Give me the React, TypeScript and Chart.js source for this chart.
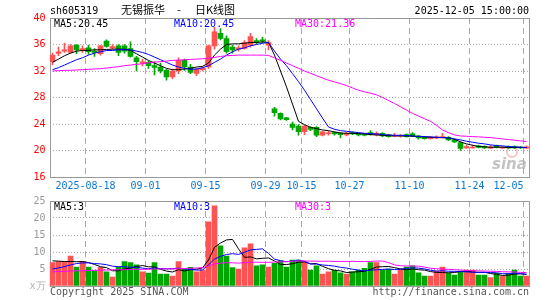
import React, { useEffect, useRef } from 'react';
import { Chart, registerables } from 'chart.js';

Chart.register(...registerables);

// ---------------- data ----------------
const dates = [
  '2025-08-08','2025-08-11','2025-08-12','2025-08-13','2025-08-14','2025-08-15','2025-08-18','2025-08-19','2025-08-20','2025-08-21',
  '2025-08-22','2025-08-25','2025-08-26','2025-08-27','2025-08-28','2025-08-29','2025-09-01','2025-09-02','2025-09-03','2025-09-04',
  '2025-09-05','2025-09-08','2025-09-09','2025-09-10','2025-09-11','2025-09-12','2025-09-15','2025-09-16','2025-09-17','2025-09-18',
  '2025-09-19','2025-09-22','2025-09-23','2025-09-24','2025-09-25','2025-09-26','2025-09-29','2025-09-30','2025-10-09','2025-10-10',
  '2025-10-13','2025-10-14','2025-10-15','2025-10-16','2025-10-17','2025-10-20','2025-10-21','2025-10-22','2025-10-23','2025-10-24',
  '2025-10-27','2025-10-28','2025-10-29','2025-10-30','2025-10-31','2025-11-03','2025-11-04','2025-11-05','2025-11-06','2025-11-07',
  '2025-11-10','2025-11-11','2025-11-12','2025-11-13','2025-11-14','2025-11-17','2025-11-18','2025-11-19','2025-11-20','2025-11-21',
  '2025-11-24','2025-11-25','2025-11-26','2025-11-27','2025-11-28','2025-12-01','2025-12-02','2025-12-03','2025-12-04','2025-12-05',
];

const open = [
  33.4, 34.65, 35.0, 34.8, 35.9, 35.2, 35.5, 35.0, 34.6, 36.5,
  35.5, 35.8, 35.8, 35.4, 34.0, 33.2, 33.3, 32.8, 32.6, 32.1,
  31.1, 32.0, 33.6, 32.6, 31.65, 32.2, 32.6, 35.8, 37.7, 36.9,
  35.6, 35.3, 35.4, 35.9, 36.6, 36.7, 35.9, 26.3, 25.6, 24.95,
  24.0, 23.7, 22.85, 23.5, 23.5, 22.3, 22.55, 22.7, 22.6, 22.35,
  22.7, 22.55, 22.5, 22.7, 22.35, 22.6, 22.35, 22.15, 22.15, 22.4,
  22.5, 22.2, 22.0, 21.8, 21.9, 21.95, 22.0, 21.6, 21.2, 20.4,
  20.4, 20.7, 20.6, 20.35, 20.7, 20.35, 20.6, 20.6, 20.5, 20.35,
];
const high = [
  34.7, 35.6, 36.2, 36.0, 36.0, 35.8, 35.9, 35.4, 35.9, 36.7,
  36.0, 36.0, 36.0, 36.4, 34.2, 33.8, 33.5, 33.4, 33.2, 32.3,
  32.3, 34.0, 33.8, 33.0, 32.4, 32.6, 35.9, 38.6, 38.4, 37.3,
  35.9, 35.8, 36.6, 37.7, 36.9, 37.1, 36.6, 26.5, 25.7, 25.0,
  24.3, 23.9, 23.8, 23.6, 23.6, 22.9, 22.9, 22.8, 22.7, 22.75,
  22.8, 22.65, 22.6, 23.0, 22.8, 22.7, 22.45, 22.6, 22.4, 22.5,
  22.7, 22.3, 22.1, 22.1, 22.2, 22.6, 22.1, 21.7, 21.3, 20.8,
  20.8, 20.8, 20.7, 20.75, 20.8, 20.6, 20.7, 20.7, 20.6, 20.7,
];
const low = [
  32.9, 34.3, 34.8, 34.7, 34.6, 34.8, 34.5, 34.2, 34.4, 35.6,
  35.3, 34.3, 34.7, 34.1, 32.0, 32.75, 32.4, 31.4, 31.7, 30.6,
  30.8, 31.6, 32.1, 31.6, 31.3, 32.0, 32.4, 35.3, 36.7, 34.7,
  34.7, 35.0, 35.3, 35.6, 36.1, 36.2, 35.2, 25.2, 24.6, 24.55,
  23.1, 22.3, 22.4, 23.0, 22.1, 22.2, 22.3, 22.3, 21.9, 22.2,
  22.4, 22.2, 22.2, 22.3, 22.2, 22.1, 22.0, 22.1, 22.0, 22.0,
  22.1, 21.7, 21.7, 21.7, 21.8, 21.85, 21.5, 21.2, 20.0, 20.3,
  20.35, 20.4, 20.3, 20.3, 20.4, 20.3, 20.3, 20.3, 20.3, 20.3,
];
const close = [
  34.4, 34.9, 35.2, 35.8, 35.2, 35.4, 34.9, 34.8, 35.8, 35.7,
  35.7, 34.8, 35.0, 34.2, 33.4, 33.4, 32.8, 32.55, 32.0, 31.1,
  32.0, 33.6, 32.6, 31.8, 32.25, 32.4, 35.8, 37.9, 36.9, 34.9,
  35.2, 35.5, 36.3, 37.2, 36.4, 36.5, 36.3, 25.7, 24.75, 24.65,
  23.5, 22.85, 23.7, 23.2, 22.3, 22.8, 22.68, 22.5, 22.4, 22.6,
  22.5, 22.35, 22.3, 22.4, 22.6, 22.2, 22.1, 22.3, 22.3, 22.1,
  22.2, 21.9, 21.8, 22.0, 22.05, 22.1, 21.6, 21.3, 20.3, 20.6,
  20.5, 20.45, 20.4, 20.5, 20.5, 20.5, 20.4, 20.4, 20.4, 20.55,
];

const ma5 = [
  33.3, 33.8, 34.3, 34.7, 35.0, 35.1, 35.1, 35.2, 35.2, 35.25,
  35.3, 35.3, 35.3, 35.1, 34.6, 34.1, 33.6, 33.2, 32.8, 32.4,
  32.2, 32.2, 32.3, 32.4, 32.6, 32.7, 33.2, 34.4, 35.3, 36.0,
  36.1, 36.1, 36.2, 36.3, 36.3, 36.4, 36.3, 34.4, 32.0, 29.6,
  27.0, 24.4, 23.9, 23.5, 23.3, 23.1, 23.0, 22.8, 22.65, 22.6,
  22.6, 22.55, 22.5, 22.4, 22.35, 22.3, 22.25, 22.2, 22.2, 22.2,
  22.15, 22.1, 22.05, 22.0, 21.95, 21.95, 21.9, 21.7, 21.3, 21.0,
  20.8, 20.6, 20.55, 20.5, 20.5, 20.5, 20.45, 20.45, 20.45, 20.45,
];
const ma10 = [
  32.2, 32.5, 32.9, 33.3, 33.7, 34.0, 34.4, 34.7, 34.9, 35.1,
  35.1, 35.2, 35.2, 35.2, 35.0, 34.8, 34.5, 34.1, 33.7, 33.3,
  32.9, 32.6, 32.4, 32.25, 32.3, 32.5, 32.8, 33.3, 33.8, 34.4,
  34.9, 35.3, 35.5, 35.8, 36.0, 36.2, 36.3, 35.0, 33.8, 32.8,
  31.6, 30.4, 29.1, 27.7, 26.3, 24.9, 23.55, 23.2, 23.0, 22.9,
  22.8, 22.7, 22.6, 22.55, 22.5, 22.4, 22.35, 22.3, 22.3, 22.25,
  22.2, 22.1, 22.1, 22.05, 22.0, 21.95, 21.9, 21.75, 21.6, 21.4,
  21.25, 21.1, 21.0, 20.85, 20.75, 20.7, 20.6, 20.55, 20.5, 20.45,
];
const ma30 = [
  32.0, 32.05, 32.1, 32.1, 32.15, 32.2, 32.25, 32.3, 32.35, 32.45,
  32.55, 32.65, 32.8, 32.9, 33.0, 33.1, 33.25, 33.35, 33.4, 33.5,
  33.6, 33.65, 33.7, 33.75, 33.8, 33.85, 33.95, 34.05, 34.2, 34.3,
  34.35, 34.4, 34.4, 34.4, 34.4, 34.4, 34.35, 34.0, 33.6, 33.2,
  32.8, 32.4, 32.0, 31.65, 31.3, 30.95, 30.6, 30.35, 30.1, 29.8,
  29.45, 29.1, 28.85, 28.65, 28.4, 28.0, 27.55, 27.1, 26.6, 26.1,
  25.6, 25.2, 24.8, 24.4, 23.8, 23.1, 22.7, 22.35, 22.2, 22.15,
  22.1, 22.05, 22.0, 21.95, 21.85, 21.75, 21.65, 21.55, 21.45, 21.36,
];

const volume = [
  6.9, 7.2, 7.2, 8.8, 5.6, 7.2, 5.6, 4.5, 5.5, 4.2,
  2.6, 5.6, 7.2, 6.9, 6.2, 4.2, 3.8, 6.9, 3.5, 3.5,
  2.9, 7.2, 5.0, 5.5, 4.2, 4.7, 18.9, 23.6, 11.8, 8.8,
  5.4, 5.0, 11.2, 12.4, 5.9, 6.2, 5.6, 6.7, 7.4, 5.6,
  7.6, 7.6, 7.2, 4.7, 5.9, 3.5, 4.2, 4.7, 3.9, 3.5,
  4.2, 4.7, 5.2, 6.9, 6.9, 4.7, 5.0, 3.5, 5.0, 5.6,
  5.9, 3.9, 2.9, 2.9, 4.4, 5.6, 3.7, 3.2, 4.4, 4.7,
  4.7, 3.2, 3.2, 2.5, 3.7, 2.9, 3.7, 4.7, 2.9, 2.9,
];
const volMa5 = [
  7.4, 7.3, 7.2, 7.2, 7.14, 7.2, 6.88, 6.34, 5.68, 5.4,
  4.48, 4.48, 5.02, 5.3, 5.7, 6.02, 5.66, 5.6, 4.92, 4.38,
  4.12, 4.8, 4.42, 4.82, 4.96, 5.32, 7.66, 11.38, 12.64, 13.56,
  13.7, 10.92, 8.44, 8.56, 7.98, 8.14, 8.26, 7.36, 6.36, 6.3,
  6.58, 6.98, 7.08, 6.54, 6.6, 5.78, 5.1, 4.6, 4.44, 3.96,
  4.1, 4.2, 4.3, 4.9, 5.58, 5.68, 5.74, 5.4, 5.02, 4.76,
  5.0, 4.78, 4.66, 4.24, 4.0, 3.94, 3.9, 3.96, 4.26, 4.32,
  4.14, 4.04, 4.04, 3.66, 3.46, 3.1, 3.2, 3.5, 3.58, 3.42,
];
const volMa10 = [
  5.0, 5.3, 5.7, 6.2, 6.6, 6.8, 6.8, 6.6, 6.5, 6.27,
  5.84, 5.68, 5.68, 5.49, 5.55, 5.25, 5.07, 5.31, 5.11, 5.04,
  5.07, 5.23, 5.01, 4.87, 4.67, 4.72, 6.23, 7.9, 8.73, 9.26,
  9.51, 9.29, 9.91, 10.6, 10.77, 10.92, 9.59, 7.9, 7.46, 7.14,
  7.36, 7.62, 7.22, 6.45, 6.45, 6.18, 6.04, 5.84, 5.49, 5.28,
  4.94, 4.65, 4.45, 4.67, 4.77, 4.89, 4.97, 4.85, 4.96, 5.17,
  5.34, 5.26, 5.03, 4.63, 4.38, 4.47, 4.34, 4.31, 4.25, 4.16,
  4.04, 3.97, 4.0, 3.96, 3.89, 3.62, 3.62, 3.77, 3.62, 3.44,
];
const volMa30 = [
  4.2, 4.25, 4.3, 4.4, 4.45, 4.5, 4.55, 4.6, 4.65, 4.7,
  4.75, 4.8, 4.8, 4.85, 4.9, 4.9, 4.95, 5.0, 5.0, 5.05,
  5.05, 5.1, 5.15, 5.2, 5.3, 5.4, 5.9, 6.5, 6.7, 6.86,
  6.81, 6.73, 6.87, 6.99, 7.0, 6.96, 6.96, 7.04, 7.1, 7.15,
  7.31, 7.38, 7.38, 7.31, 7.3, 7.27, 7.29, 7.21, 7.23, 7.23,
  7.27, 7.19, 7.19, 7.24, 7.33, 7.33, 6.87, 6.2, 5.97, 5.86,
  5.88, 5.84, 5.57, 5.2, 5.1, 5.0, 4.9, 4.8, 4.7, 4.6,
  4.5, 4.45, 4.4, 4.35, 4.3, 4.2, 4.15, 4.1, 4.0, 3.95,
];

const xTickDates = ['2025-08-18','2025-09-01','2025-09-15','2025-09-29','2025-10-15','2025-10-27','2025-11-10','2025-11-24','2025-12-05'];
const xTickLabels = ['2025-08-18','09-01','09-15','09-29','10-15','10-27','11-10','11-24','12-05'];
const priceTicks = [16, 20, 24, 28, 32, 36, 40];
const volumeTicks = [0, 5, 10, 15, 20, 25];
const volumeUnit = 'x万';

const stockCode = 'sh605319';
const stockName = '无锡振华';
const chartKind = '日K线图';
const timeStamp = '2025-12-05 15:00:00';

// ---------------- styles ----------------
const MONO = '"DejaVu Sans Mono", "Liberation Mono", monospace';
const CJK = '"Noto Sans CJK SC", sans-serif';
const RED = '#ff5353';
const GREEN = '#00a600';
const C_MA5 = '#000000';
const C_MA10 = '#0000ff';
const C_MA30 = '#ff00ff';
const GRID = '#aaaaaa';
const CLEAR = 'rgba(0,0,0,0)';
const XLABEL = '#0a78d2';

const xTickValues = xTickDates.map((d) => dates.indexOf(d));
const isUp = close.map((c, i) => c >= open[i]);
const candleColors = isUp.map((u) => (u ? RED : GREEN));
const centers = dates.map((_, i) => i + 0.5);

function lineSet(values: number[], color: string) {
  return {
    type: 'line' as const,
    data: values.map((y, i) => ({ x: centers[i], y })),
    borderColor: color,
    borderWidth: 1,
    pointRadius: 0,
    tension: 0,
    order: 0,
  };
}

function xScale(showLabels: boolean, height: number) {
  return {
    type: 'linear' as const,
    min: 0,
    max: dates.length,
    offset: false,
    afterBuildTicks: (s: any) => {
      s.ticks = [0, ...xTickValues].map((v) => ({ value: v }));
    },
    afterFit: (s: any) => {
      s.height = height;
    },
    grid: {
      offset: false,
      drawTicks: false,
      lineWidth: 1,
      color: (c: any) => (c.tick && c.tick.value > 0 ? GRID : CLEAR),
    },
    border: { display: false, dash: [6, 4] },
    ticks: {
      display: showLabels,
      autoSkip: false,
      maxRotation: 0,
      align: 'inner' as const,
      padding: 3,
      color: XLABEL,
      font: { family: MONO, size: 10 },
      callback: (v: number) => {
        const k = xTickValues.indexOf(v);
        return k >= 0 ? xTickLabels[k] : '';
      },
    },
  };
}

function drawFrame(chart: any) {
  const { ctx, chartArea: a } = chart;
  ctx.save();
  ctx.strokeStyle = '#999999';
  ctx.lineWidth = 1;
  const l = Math.round(a.left) + 0.5;
  const r = Math.floor(a.right) + 0.5;
  const t = Math.floor(a.top) + 0.5;
  const b = Math.floor(a.bottom) + 0.5;
  ctx.strokeRect(l, t, r - l, b - t);
  ctx.restore();
}

const pricePlugin = {
  id: 'priceDecor',
  beforeDatasetsDraw(chart: any) {
    drawFrame(chart);
    const { ctx } = chart;
    ctx.save();
    // sina watermark
    ctx.strokeStyle = 'rgba(240,150,150,0.55)';
    ctx.lineWidth = 2;
    ctx.beginPath();
    ctx.arc(512, 152, 5, 0, Math.PI * 2);
    ctx.stroke();
    ctx.fillStyle = 'rgba(175,175,175,0.75)';
    ctx.font = 'italic bold 15px "DejaVu Sans", sans-serif';
    ctx.textAlign = 'left';
    ctx.textBaseline = 'middle';
    ctx.fillText('sina', 492, 165);
    ctx.restore();
  },
  afterDraw(chart: any) {
    const { ctx } = chart;
    ctx.save();
    ctx.textBaseline = 'middle';
    ctx.textAlign = 'left';
    ctx.fillStyle = '#000';
    ctx.font = `10px ${MONO}`;
    ctx.fillText(stockCode, 50, 11);
    ctx.font = `11px ${CJK}`;
    ctx.fillText(stockName, 121, 10);
    ctx.fillText('-', 177, 10);
    ctx.fillText(chartKind, 195, 10);
    ctx.font = `10px ${MONO}`;
    ctx.textAlign = 'right';
    ctx.fillText(timeStamp, 529, 11);
    ctx.textAlign = 'left';
    ctx.fillStyle = C_MA5;
    ctx.fillText('MA5:' + ma5[ma5.length - 1].toFixed(2), 54, 24);
    ctx.fillStyle = C_MA10;
    ctx.fillText('MA10:' + ma10[ma10.length - 1].toFixed(2), 174, 24);
    ctx.fillStyle = C_MA30;
    ctx.fillText('MA30:' + ma30[ma30.length - 1].toFixed(2), 295, 24);
    ctx.restore();
  },
};

const volumePlugin = {
  id: 'volDecor',
  beforeDatasetsDraw(chart: any) {
    drawFrame(chart);
  },
  afterDraw(chart: any) {
    const { ctx } = chart;
    ctx.save();
    ctx.textBaseline = 'middle';
    ctx.font = `10px ${MONO}`;
    ctx.textAlign = 'left';
    ctx.fillStyle = C_MA5;
    ctx.fillText('MA5:' + Math.floor(volMa5[volMa5.length - 1]), 54, 17);
    ctx.fillStyle = C_MA10;
    ctx.fillText('MA10:' + Math.floor(volMa10[volMa10.length - 1]), 174, 17);
    ctx.fillStyle = C_MA30;
    ctx.fillText('MA30:' + Math.floor(volMa30[volMa30.length - 1]), 295, 17);
    ctx.fillStyle = '#555';
    ctx.fillText('Copyright 2025 SINA.COM', 50, 102);
    ctx.textAlign = 'right';
    ctx.fillText('http://finance.sina.com.cn', 529, 102);
    ctx.restore();
  },
};

export default function App() {
  const priceRef = useRef<HTMLCanvasElement | null>(null);
  const volRef = useRef<HTMLCanvasElement | null>(null);

  useEffect(() => {
    document.body.style.margin = '0';
    const common = {
      responsive: false,
      animation: false as const,
      events: [] as any[],
      plugins: { legend: { display: false }, tooltip: { enabled: false } },
    };

    const price = new Chart(priceRef.current as HTMLCanvasElement, {
      type: 'bar',
      data: {
        datasets: [
          lineSet(ma30, C_MA30),
          lineSet(ma10, C_MA10),
          lineSet(ma5, C_MA5),
          {
            type: 'bar' as const,
            data: low.map((l, i) => ({ x: centers[i], y: [l, high[i]] })),
            backgroundColor: candleColors,
            borderWidth: 0,
            barThickness: 1,
            grouped: false,
            order: 2,
          },
          {
            type: 'bar' as const,
            data: open.map((o, i) => ({
              x: centers[i],
              y: [Math.min(o, close[i]), Math.max(o, close[i])],
            })),
            backgroundColor: candleColors,
            borderWidth: 0,
            barThickness: 5,
            grouped: false,
            order: 1,
          },
        ] as any,
      },
      options: {
        ...common,
        layout: { padding: { left: 0, right: 15.5, top: 18, bottom: 0 } },
        scales: {
          x: xScale(true, 13) as any,
          y: {
            min: 16,
            max: 40,
            afterBuildTicks: (s: any) => {
              s.ticks = priceTicks.map((v) => ({ value: v }));
            },
            afterFit: (s: any) => {
              s.width = 49.5;
            },
            grid: {
              drawTicks: false,
              lineWidth: 1,
              color: (c: any) =>
                c.tick && c.tick.value > priceTicks[0] && c.tick.value < priceTicks[priceTicks.length - 1]
                  ? GRID
                  : CLEAR,
            },
            border: { display: false, dash: [1, 2] },
            ticks: { padding: 4, color: '#ff0000', font: { family: MONO, size: 10 } },
          } as any,
        },
      } as any,
      plugins: [pricePlugin],
    });

    const vol = new Chart(volRef.current as HTMLCanvasElement, {
      type: 'bar',
      data: {
        datasets: [
          lineSet(volMa30, C_MA30),
          lineSet(volMa10, C_MA10),
          lineSet(volMa5, C_MA5),
          {
            type: 'bar' as const,
            data: volume.map((v, i) => ({ x: centers[i], y: v })),
            backgroundColor: candleColors,
            borderWidth: 0,
            barThickness: 5,
            grouped: false,
            order: 1,
          },
        ] as any,
      },
      options: {
        ...common,
        layout: { padding: { left: 0, right: 15.5, top: 11, bottom: 14 } },
        scales: {
          x: xScale(false, 0) as any,
          y: {
            min: 0,
            max: 25,
            afterBuildTicks: (s: any) => {
              s.ticks = volumeTicks.map((v) => ({ value: v }));
            },
            afterFit: (s: any) => {
              s.width = 49.5;
            },
            grid: {
              drawTicks: false,
              lineWidth: 1,
              color: (c: any) =>
                c.tick && c.tick.value > 0 && c.tick.value < volumeTicks[volumeTicks.length - 1] ? GRID : CLEAR,
            },
            border: { display: false, dash: [1, 2] },
            ticks: {
              padding: 4,
              color: (c: any) => (c.tick && c.tick.value === 0 ? '#b0b0b0' : '#999999'),
              font: { family: MONO, size: 10 },
              callback: (v: number) => (v === 0 ? volumeUnit : String(v)),
            },
          } as any,
        },
      } as any,
      plugins: [volumePlugin],
    });

    return () => {
      price.destroy();
      vol.destroy();
    };
  }, []);

  return (
    <div style={{ position: 'absolute', left: 0, top: 0, width: 545, height: 300, background: '#fff' }}>
      <canvas
        ref={priceRef}
        width={545}
        height={190}
        style={{ position: 'absolute', left: 0, top: 0, display: 'block' }}
      />
      <canvas
        ref={volRef}
        width={545}
        height={110}
        style={{ position: 'absolute', left: 0, top: 190, display: 'block' }}
      />
    </div>
  );
}
